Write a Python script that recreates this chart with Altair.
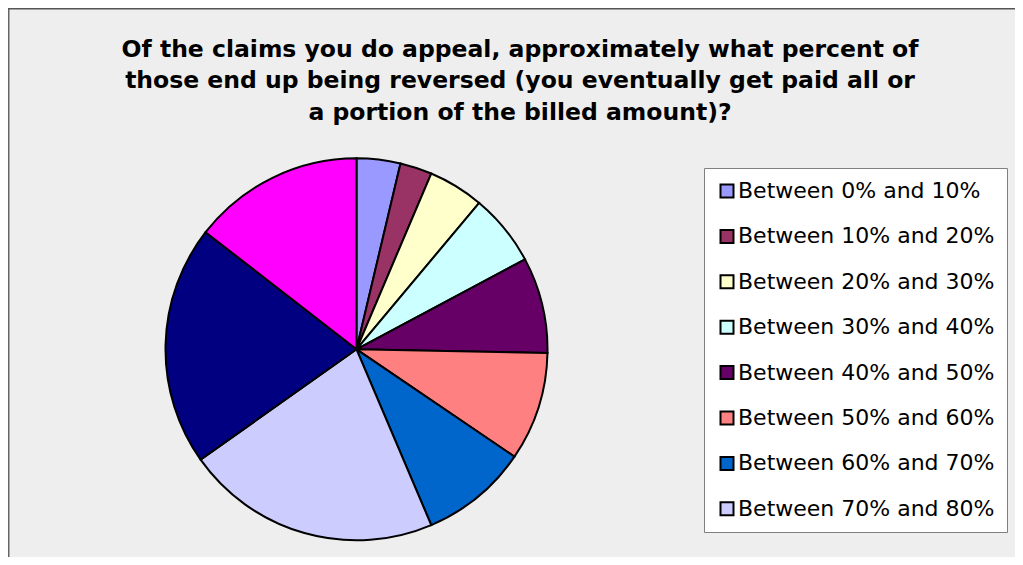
import altair as alt
import pandas as pd

categories = [
    "Between 0% and 10%", "Between 10% and 20%", "Between 20% and 30%",
    "Between 30% and 40%", "Between 40% and 50%", "Between 50% and 60%",
    "Between 60% and 70%", "Between 70% and 80%", "Between 80% and 90%",
    "Between 90% and 100%",
]
values = [3.7, 2.7, 4.7, 6.1, 8.1, 9.2, 9.1, 21.6, 20.3, 14.5]
colors = ["#9999FF", "#993366", "#FFFFCC", "#CCFFFF", "#660066",
          "#FF8080", "#0066CC", "#CCCCFF", "#000080", "#FF00FF"]
title_lines = [
    "Of the claims you do appeal, approximately what percent of",
    "those end up being reversed (you eventually get paid all or",
    "a portion of the billed amount)?",
]

df = pd.DataFrame({"category": categories, "value": values, "idx": list(range(len(values)))})

pie = alt.Chart(df).mark_arc(
    outerRadius=191, stroke="black", strokeWidth=2
).encode(
    theta=alt.Theta("value:Q", stack=True),
    order=alt.Order("idx:Q"),
    color=alt.Color(
        "category:N",
        scale=alt.Scale(domain=categories, range=colors),
        legend=alt.Legend(
            values=categories[:8],
            orient="none", legendX=696, legendY=160,
            title=None,
            fillColor="white", strokeColor="#808080",
            padding=12,
            labelFont="DejaVu Sans", labelFontSize=22, labelColor="black",
            labelOffset=0, labelLimit=400,
            symbolType="square", symbolSize=169,
            symbolStrokeColor="black", symbolStrokeWidth=2, symbolOpacity=1,
        ),
    ),
    x=alt.value(348.5),
    y=alt.value(341.3),
)

title = alt.Chart(pd.DataFrame({"t": [0]})).mark_text(
    text=title_lines, font="DejaVu Sans", fontSize=23.5, fontWeight="bold",
    align="center", baseline="alphabetic", lineHeight=31.5, color="black",
).encode(x=alt.value(512), y=alt.value(48.7))

frame = pd.DataFrame({"t": [0]})
left_border = alt.Chart(frame).mark_rule(color="#666666", strokeWidth=2).encode(
    x=alt.value(0.5), y=alt.value(0), y2=alt.value(549)
)
top_border = alt.Chart(frame).mark_rule(color="#555555", strokeWidth=2).encode(
    x=alt.value(0), x2=alt.value(1007), y=alt.value(0.5)
)

chart = alt.layer(pie, title, left_border, top_border).properties(
    width=1007, height=549, padding=0,
    autosize=alt.AutoSizeParams(type="none"),
).configure_view(
    fill="#EEEEEE", strokeWidth=0
).configure_legend(
    rowPadding=23.4, strokeWidth=1
)

chart.save("out.html", embed_options={"renderer": "svg", "actions": False})
